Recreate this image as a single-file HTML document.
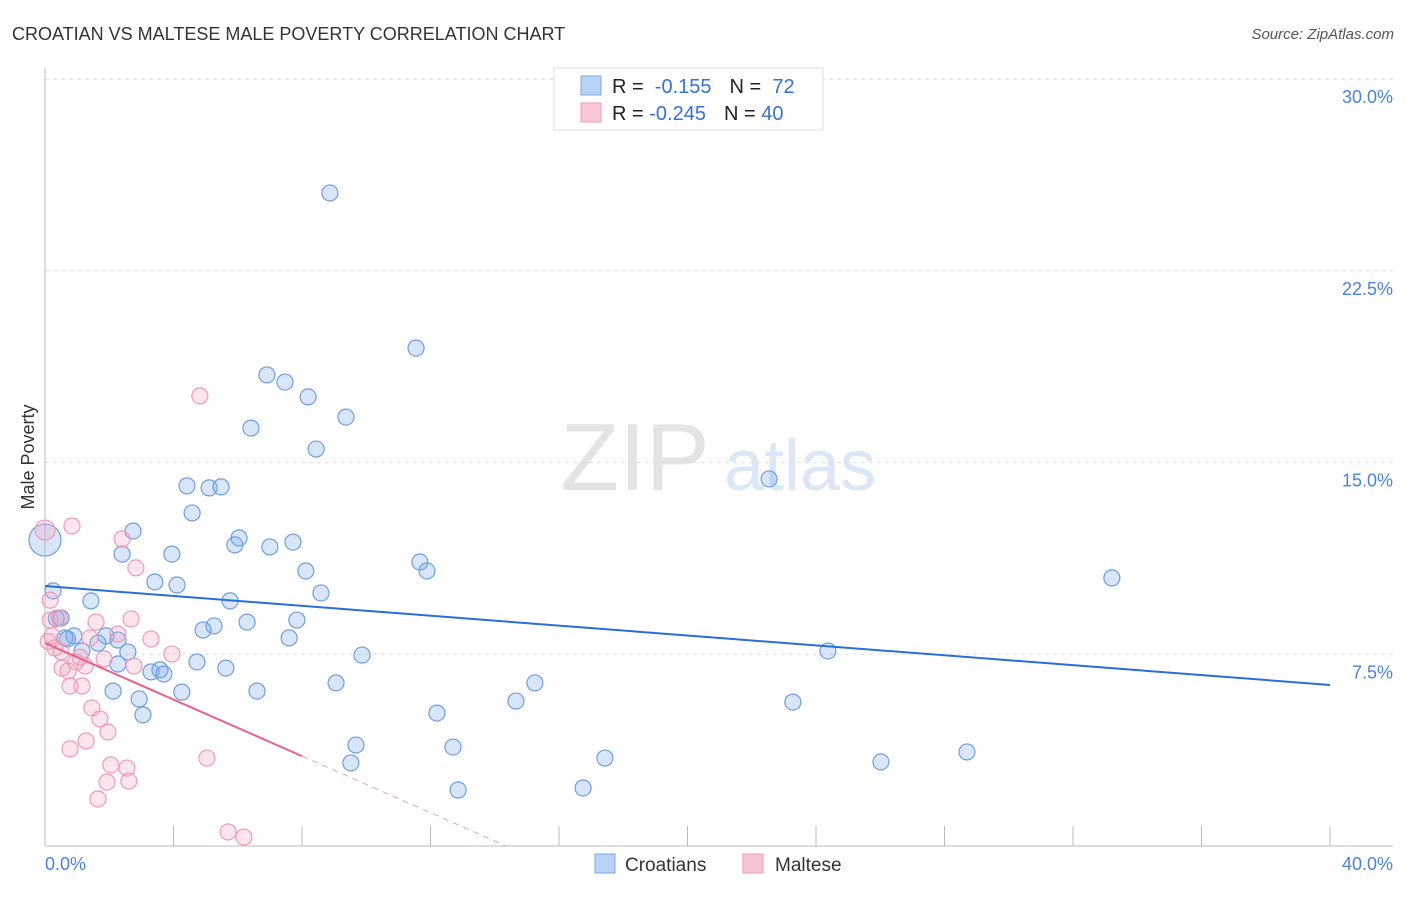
<!DOCTYPE html>
<html><head><meta charset="utf-8"><style>
body{margin:0;background:#fff;font-family:"Liberation Sans",sans-serif}
svg text{font-family:"Liberation Sans",sans-serif}
</style></head><body>
<svg id="c" width="1406" height="892" viewBox="0 0 1406 892" xmlns="http://www.w3.org/2000/svg">
<text x="12" y="40" font-size="18" fill="#333">CROATIAN VS MALTESE MALE POVERTY CORRELATION CHART</text>
<text x="1394" y="39" font-size="15" fill="#555" font-style="italic" text-anchor="end">Source: ZipAtlas.com</text>
<text x="34" y="457" font-size="18" fill="#333" text-anchor="middle" transform="rotate(-90 34 457)">Male Poverty</text>
<g><text x="635" y="490" font-size="96" fill="#e4e4e4" font-family="Liberation Serif" text-anchor="middle">ZIP</text><text x="800" y="490" font-size="72" fill="#dbe6f7" text-anchor="middle">atlas</text></g>
<g id="grid"></g><g id="axes"></g><g id="marks"></g>
<g>
<rect x="554" y="68" width="269" height="62" fill="#fff" stroke="#ddd"/>
<rect x="581" y="76" width="20" height="19" fill="#b9d3f6" stroke="#7aa7e6"/>
<rect x="581" y="103" width="20" height="19" fill="#f9c6d6" stroke="#ee9ab5"/>
<text x="612" y="93" font-size="20" fill="#222">R = <tspan fill="#3672d0">&#160;-0.155</tspan><tspan dx="18">N = </tspan><tspan fill="#3672d0">&#160;72</tspan></text>
<text x="612" y="120" font-size="20" fill="#222">R = <tspan fill="#3672d0">-0.245</tspan><tspan dx="18">N = </tspan><tspan fill="#3672d0">40</tspan></text>
</g>
<g>
<rect x="595" y="854" width="20" height="19" fill="#b9d3f6" stroke="#7aa7e6"/>
<text x="625" y="871" font-size="19" fill="#333">Croatians</text>
<rect x="743" y="854" width="20" height="19" fill="#f9c6d6" stroke="#ee9ab5"/>
<text x="775" y="871" font-size="19" fill="#333">Maltese</text>
</g>
</svg>
<script>
const xTicksPct=[0,40];
const yTicks=[7.5,15,22.5,30];
const croX=[8.87,11.55,6.91,7.47,8.19,9.37,6.41,8.44,22.54,4.42,5.11,5.48,4.58,2.74,6.04,5.91,7.72,7.00,2.40,3.95,11.67,11.89,8.12,3.42,4.11,33.21,0.25,8.59,1.43,5.76,0.50,7.84,6.29,5.26,4.92,0.62,0.90,1.90,7.60,1.65,2.27,2.58,24.37,1.15,9.87,4.73,2.27,5.63,3.30,3.58,3.70,15.25,9.06,2.12,4.26,6.60,2.93,14.66,23.28,3.05,12.20,9.68,12.70,9.52,17.43,28.70,26.02,12.86,16.75,0,0.35,0.7];
const croY=[25.55,19.48,18.43,18.15,17.57,16.78,16.35,15.53,14.36,14.09,14.01,14.05,13.03,12.32,12.05,11.78,11.89,11.70,11.42,11.42,11.11,10.76,10.76,10.33,10.21,10.49,9.98,9.90,9.59,9.59,8.92,8.84,8.76,8.61,8.45,8.14,8.22,8.22,8.14,7.94,8.06,7.59,7.63,7.63,7.47,7.20,7.12,6.96,6.81,6.89,6.73,6.38,6.38,6.06,6.02,6.06,5.75,5.67,5.63,5.13,5.20,3.95,3.87,3.25,3.44,3.68,3.29,2.19,2.27,11.97,8.9,8.1];
const malX=[4.82,0.84,0,2.40,2.83,0.44,2.68,0.16,1.59,0.22,2.27,3.30,1.40,0.31,3.95,1.84,0.96,2.77,1.25,0.53,0.72,1.09,0.78,1.15,1.46,1.71,1.96,1.28,0.78,5.04,2.05,2.55,1.93,2.61,1.65,5.70,6.19,0.16,0.5,0.1];
const malY=[17.61,12.52,12.36,12.01,10.88,8.92,8.88,8.84,8.76,8.22,8.29,8.10,8.14,7.75,7.51,7.32,7.20,7.04,7.04,6.96,6.85,7.39,6.26,6.26,5.40,4.97,4.46,4.11,3.80,3.44,3.17,3.05,2.50,2.54,1.84,0.55,0.35,9.62,7.6,8.0];
const croTrend=[10.17,6.30];
const malTrend=[7.94,-0.553];
const NS='http://www.w3.org/2000/svg';
const X=v=>45+v/40*1285, Y=v=>846-v/7.5*191.7;
function mk(t,a,p){const e=document.createElementNS(NS,t);for(const k in a)e.setAttribute(k,a[k]);document.getElementById(p).appendChild(e);return e;}
yTicks.forEach(t=>{
 const l=mk('line',{x1:45,x2:1393,y1:Y(t),y2:Y(t),stroke:'#ddd','stroke-dasharray':'4 4'},'grid');
 
 
 const s=mk('text',{x:1393,y:Y(t)+24,'font-size':18,fill:'#4a82da','text-anchor':'end'},'axes');s.textContent=t.toFixed(1)+'%';
 
 
});
mk('line',{x1:45,x2:45,y1:68,y2:846,stroke:'#bbb'},'axes');
mk('line',{x1:45,x2:1393,y1:846,y2:846,stroke:'#bbb'},'axes');
for(let i=0;i<=10;i++){const l=mk('line',{x1:X(i*4),x2:X(i*4),y1:826,y2:846,stroke:'#bbb'},'axes');
 
 }
xTicksPct.forEach((t,i)=>{const s=mk('text',{x:i?1393:45,y:870,'font-size':18,fill:'#4a82da','text-anchor':i?'end':'start'},'axes');s.textContent=t.toFixed(1)+'%';
 
 });
croX.forEach((x,i)=>{const c=mk('circle',{cx:X(x),cy:Y(croY[i]),r:x===0?16:8,fill:'rgba(120,165,235,0.28)',stroke:'#6c9ee2','stroke-width':1.2},'marks');
 
 });
malX.forEach((x,i)=>{const c=mk('circle',{cx:X(x),cy:Y(malY[i]),r:x===0?10:8,fill:'rgba(245,160,190,0.28)',stroke:'#ee9ab5','stroke-width':1.2},'marks');
 
 });
const t1=mk('line',{x1:X(0),y1:Y(croTrend[0]),x2:X(40),y2:Y(croTrend[1]),stroke:'#2a6fd6','stroke-width':2},'marks');


const m=x=>malTrend[0]+malTrend[1]*x;
const t2=mk('line',{x1:X(0),y1:Y(m(0)),x2:X(8),y2:Y(m(8)),stroke:'#e8608c','stroke-width':2},'marks');


const z=-malTrend[0]/malTrend[1];
const t3=mk('line',{x1:X(8),y1:Y(m(8)),x2:X(z),y2:Y(0),stroke:'#eea0b8','stroke-width':1,'stroke-dasharray':'6 5'},'marks');


</script>
</body></html>
